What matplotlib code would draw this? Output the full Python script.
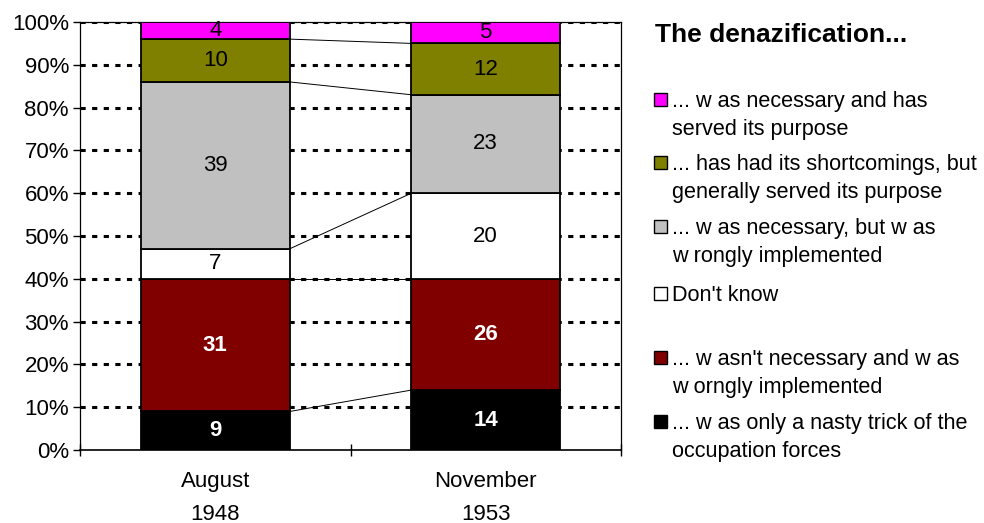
import numpy as np
import matplotlib.pyplot as plt
from matplotlib.patches import Rectangle

plt.rcParams['font.family'] = ['Liberation Sans', 'DejaVu Sans']

categories = ['August\n1948', 'November\n1953']
series = ['... w as only a nasty trick of the\noccupation forces',
          "... w asn't necessary and w as\nw orngly implemented",
          "Don't know",
          '... w as necessary, but w as\nw rongly implemented',
          '... has had its shortcomings, but\ngenerally served its purpose',
          '... w as necessary and has\nserved its purpose']
values = [[9, 14],
          [31, 26],
          [7, 20],
          [39, 23],
          [10, 12],
          [4, 5]]
colors = ['#000000', '#800000', '#ffffff', '#c0c0c0', '#808000', '#ff00ff']
label_colors = ['white', 'white', 'black', 'black', 'black', 'black']
label_weights = ['bold', 'bold', 'normal', 'normal', 'normal', 'normal']
yticks = [0, 10, 20, 30, 40, 50, 60, 70, 80, 90, 100]

fs = 16

fig = plt.figure(figsize=(9.84, 5.23), dpi=100)
ax = fig.add_axes([80 / 984, 73 / 523, 541 / 984, 428 / 523])

x = np.arange(len(categories))
w = 0.55
bottom = np.zeros(len(categories))
for vals, c, lc, lw_ in zip(values, colors, label_colors, label_weights):
    vals = np.array(vals, dtype=float)
    ax.bar(x, vals, w, bottom=bottom, color=c, edgecolor='black', linewidth=1.3, zorder=3)
    for xi, v, b in zip(x, vals, bottom):
        ax.text(xi, b + v / 2, str(int(v)), ha='center', va='center', fontsize=fs,
                color=lc, fontweight=lw_, zorder=4)
    bottom = bottom + vals
    # series lines between bars
    if bottom[0] < 100:
        ax.plot([x[0] + w / 2, x[1] - w / 2], [bottom[0], bottom[1]], color='black', lw=0.7, zorder=2)

# dotted gridlines
for t in yticks[1:]:
    ax.axhline(t, color='black', lw=2.2, linestyle=(0, (1.7, 2.1)), dash_capstyle='butt', zorder=1)

ax.set_xlim(-0.5, 1.5)
ax.set_ylim(0, 100)
ax.set_yticks(yticks)
ax.set_yticklabels([f'{t}%' for t in yticks], fontsize=fs)
ax.tick_params(axis='y', direction='out', length=5, width=1, pad=3)
ax.set_xticks(x)
ax.set_xticklabels(categories, fontsize=fs, linespacing=1.75)
ax.tick_params(axis='x', length=0, pad=15)
ax.set_xticks([-0.5, 0.5, 1.5], minor=True)
ax.tick_params(axis='x', which='minor', direction='inout', length=9, width=1)
for s in ['top', 'right', 'left']:
    ax.spines[s].set_linewidth(0.9)
ax.spines['bottom'].set_linewidth(1.2)

# legend
fig.text(655 / 984, 1 - 35 / 523, 'The denazification...', fontsize=19, fontweight='bold',
         ha='left', va='center')
legend_y = [100, 163, 227, 294, 358, 422]
for lab, c, yy in zip(series[::-1], colors[::-1], legend_y):
    fig.patches.append(Rectangle((654 / 984, 1 - (yy + 6) / 523), 13 / 984, 13 / 523,
                                 transform=fig.transFigure, facecolor=c,
                                 edgecolor='black', linewidth=1))
    fig.text(672 / 984, 1 - (yy - 9) / 523, lab, fontsize=15.6, ha='left', va='top',
             linespacing=1.45)

fig.savefig('out.png', dpi=100)
